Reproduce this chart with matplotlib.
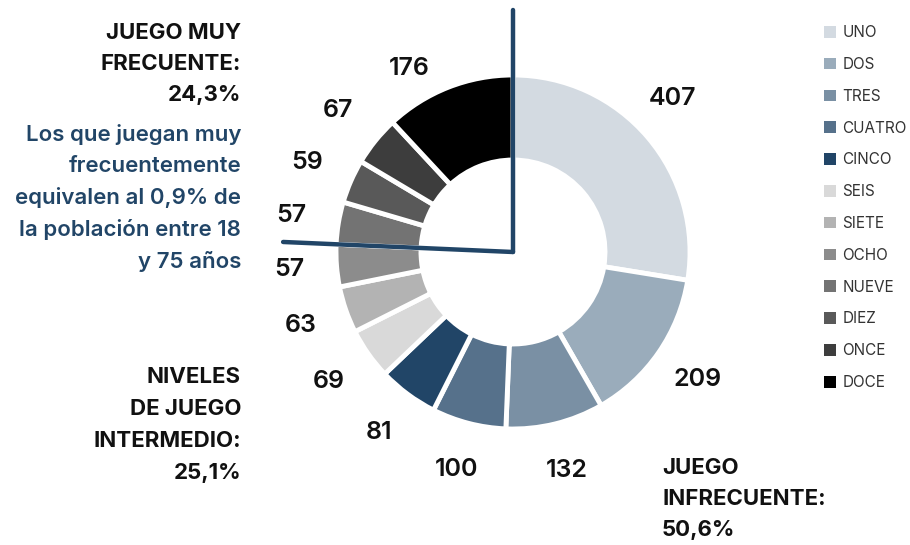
import numpy as np
import matplotlib
matplotlib.use("Agg")
import matplotlib.pyplot as plt

# data
categories = ["UNO", "DOS", "TRES", "CUATRO", "CINCO", "SEIS",
              "SIETE", "OCHO", "NUEVE", "DIEZ", "ONCE", "DOCE"]
values = [407, 209, 132, 100, 81, 69, 63, 57, 57, 59, 67, 176]
colors = ["#d3dae1", "#9aacbb", "#7a90a4", "#56718b", "#214567", "#d9d9d9",
          "#b3b3b3", "#8c8c8c", "#737373", "#595959", "#3d3d3d", "#000000"]

plt.rcParams['font.family'] = ['Inter', 'DejaVu Sans']

W, H = 910, 545
fig = plt.figure(figsize=(W / 100, H / 100), dpi=100)
ax = fig.add_axes([0, 0, 1, 1])

cx, cy, R = 513, H - 252, 177
ring = 85
blue = "#214567"

wedges, texts = ax.pie(values, colors=colors, labels=[str(v) for v in values],
                       startangle=90, counterclock=False, center=(cx, cy), radius=R,
                       labeldistance=1.27, frame=True,
                       wedgeprops=dict(width=ring, edgecolor='white', linewidth=3.5),
                       textprops=dict(fontsize=18, fontweight='semibold', color='#111111',
                                      ha='center', va='center'))
ax.set_xlim(0, W)
ax.set_ylim(0, H)
ax.set_aspect('equal')
ax.axis('off')

# the 176 label sits off the vertical divider
total = sum(values)
cum = np.cumsum(values) / total
mid = 1 - values[-1] / total / 2
ang = np.pi / 2 - 2 * np.pi * (mid - 0.022)
texts[-1].set_position((cx + 1.19 * R * np.cos(ang), cy + 1.19 * R * np.sin(ang)))
# 407 label a little closer to the top
mid0 = values[0] / total / 2
ang = np.pi / 2 - 2 * np.pi * (mid0 - 0.01)
texts[0].set_position((cx + 1.25 * R * np.cos(ang), cy + 1.25 * R * np.sin(ang)))

# divider lines: start and end of "juego muy frecuente"
for frac, length in [(1.0, 1.37), (cum[7], 1.30)]:
    ang = np.pi / 2 - 2 * np.pi * frac
    ax.plot([cx, cx + length * R * np.cos(ang)], [cy, cy + length * R * np.sin(ang)],
            color=blue, lw=3.2, solid_capstyle='round', solid_joinstyle='round', zorder=5)

# annotation texts
ax.text(241, H - 23, "JUEGO MUY\nFRECUENTE:\n24,3%", ha='right', va='top',
        fontsize=16, fontweight='bold', color='#111111', linespacing=1.7)
ax.text(241, H - 124, "Los que juegan muy\nfrecuentemente\nequivalen al 0,9% de\nla población entre 18\ny 75 años",
        ha='right', va='top', fontsize=16, fontweight='semibold', color=blue, linespacing=1.66)
ax.text(241, H - 367, "NIVELES\nDE JUEGO\nINTERMEDIO:\n25,1%", ha='right', va='top',
        fontsize=16, fontweight='bold', color='#111111', linespacing=1.74)
ax.text(662, H - 458, "JUEGO\nINFRECUENTE:\n50,6%", ha='left', va='top',
        fontsize=16, fontweight='bold', color='#111111', linespacing=1.7)

leg = ax.legend(wedges, categories, loc='upper left', bbox_to_anchor=(818 / W, 1 - 19 / H),
                frameon=False, fontsize=11, labelspacing=1.1, handlelength=0.8,
                handleheight=0.8, handletextpad=0.4, borderaxespad=0)
for t in leg.get_texts():
    t.set_color('#333333')
for h in leg.legend_handles:
    h.set_linewidth(0)

fig.savefig("out.png", dpi=100)
